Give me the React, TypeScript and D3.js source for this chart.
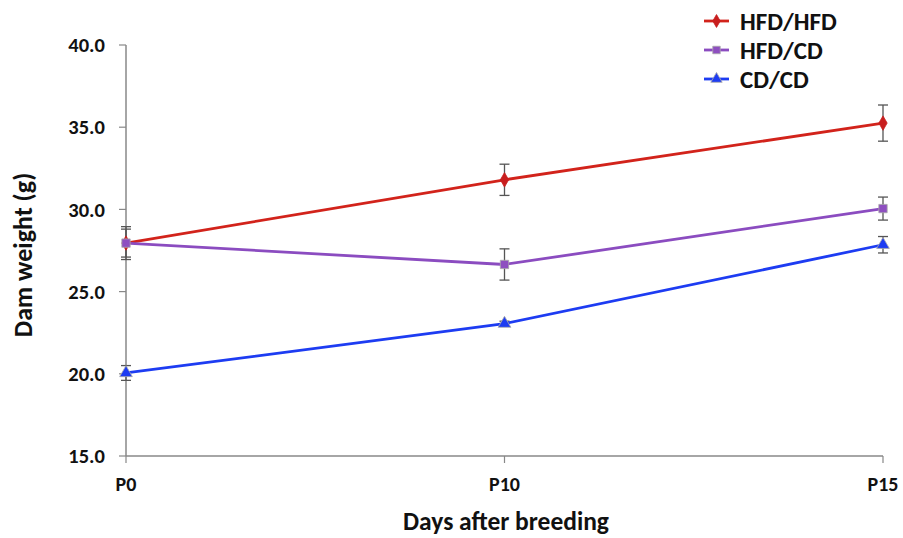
import React from "react";
import * as d3 from "d3";

const categories = ["P0", "P10", "P15"];
const yTicks = [15, 20, 25, 30, 35, 40];
const seriesNames = ["HFD/HFD", "HFD/CD", "CD/CD"];
const hfdHfd = [27.95, 31.8, 35.25];
const hfdHfdErr = [1.0, 0.95, 1.1];
const hfdCd = [27.95, 26.65, 30.05];
const hfdCdErr = [0.85, 0.95, 0.7];
const cdCd = [20.05, 23.05, 27.85];
const cdCdErr = [0.45, 0.15, 0.5];

const colors = ["#d2231b", "#8b4cc0", "#1d3cf2"];
const markerFill = ["#c81e1e", "#8e4fc0", "#1d3cf2"];
const shapes = [d3.symbolDiamond, d3.symbolSquare, d3.symbolTriangle];

export default function App() {
  const W = 903, H = 538;
  const x = d3.scalePoint<string>().domain(categories).range([126, 883]);
  const y = d3.scaleLinear().domain([15, 40]).range([456, 45]);
  const series = [
    { name: seriesNames[0], v: hfdHfd, e: hfdHfdErr },
    { name: seriesNames[1], v: hfdCd, e: hfdCdErr },
    { name: seriesNames[2], v: cdCd, e: cdCdErr },
  ];
  const line = d3
    .line<number>()
    .x((_, i) => x(categories[i])!)
    .y((d) => y(d));
  const font = "Carlito, Lato, 'Open Sans', 'Liberation Sans', sans-serif";
  const symSize = [60, 70, 70];
  const fw = 900;
  return (
    <svg
      width={W}
      height={H}
      style={{ position: "absolute", left: 0, top: 0, background: "#fff" }}
      fontFamily={font}
    >
      {/* y axis */}
      <line x1={126} x2={126} y1={y(40)} y2={y(15)} stroke="#888" strokeWidth={1.5} />
      {yTicks.map((t) => (
        <g key={t}>
          <line x1={119} x2={126} y1={y(t)} y2={y(t)} stroke="#888" strokeWidth={1.2} />
          <text x={105} y={y(t)} dy="0.35em" textAnchor="end" fontSize={20.5} fontWeight={fw} fill="#111">
            {t.toFixed(1)}
          </text>
        </g>
      ))}
      {/* x axis */}
      <line x1={126} x2={883} y1={456} y2={456} stroke="#888" strokeWidth={1.5} />
      {categories.map((c) => (
        <g key={c}>
          <line x1={x(c)} x2={x(c)} y1={456} y2={463} stroke="#888" strokeWidth={1.2} />
          <text x={x(c)} y={491} textAnchor="middle" fontSize={20} fontWeight={fw} fill="#111">
            {c}
          </text>
        </g>
      ))}
      <text x={506} y={530} textAnchor="middle" fontSize={25.5} fontWeight={fw} fill="#111">
        Days after breeding
      </text>
      <text
        transform={`translate(32,255) rotate(-90)`}
        textAnchor="middle"
        fontSize={26}
        fontWeight={fw}
        fill="#111"
      >
        Dam weight (g)
      </text>
      {/* error bars */}
      {series.map((s, si) =>
        s.v.map((v, i) => {
          const cx = x(categories[i])!;
          return (
            <g key={`${si}-${i}`} stroke="#555" strokeWidth={1.3}>
              <line x1={cx} x2={cx} y1={y(v - s.e[i])} y2={y(v + s.e[i])} />
              <line x1={cx - 5} x2={cx + 5} y1={y(v - s.e[i])} y2={y(v - s.e[i])} />
              <line x1={cx - 5} x2={cx + 5} y1={y(v + s.e[i])} y2={y(v + s.e[i])} />
            </g>
          );
        })
      )}
      {/* lines */}
      {series.map((s, si) => (
        <path key={si} d={line(s.v)!} fill="none" stroke={colors[si]} strokeWidth={2.8} />
      ))}
      {/* markers */}
      {series.map((s, si) =>
        s.v.map((v, i) => (
          <path
            key={`m${si}-${i}`}
            d={d3.symbol(shapes[si], symSize[si])()!}
            transform={`translate(${x(categories[i])},${y(v)})`}
            fill={markerFill[si]}
            stroke={si === 0 ? markerFill[si] : "#aaa"}
            strokeWidth={0.8}
          />
        ))
      )}
      {/* legend */}
      {series.map((s, si) => {
        const ly = 21 + si * 29;
        return (
          <g key={`l${si}`}>
            <line x1={704} x2={729} y1={ly} y2={ly} stroke={colors[si]} strokeWidth={2.8} />
            <path
              d={d3.symbol(shapes[si], symSize[si] * 0.8)()!}
              transform={`translate(716.5,${ly})`}
              fill={markerFill[si]}
              stroke={si === 0 ? markerFill[si] : "#aaa"}
              strokeWidth={0.8}
            />
            <text x={740} y={ly} dy="0.36em" fontSize={25} fontWeight={fw} fill="#111">
              {s.name}
            </text>
          </g>
        );
      })}
    </svg>
  );
}
